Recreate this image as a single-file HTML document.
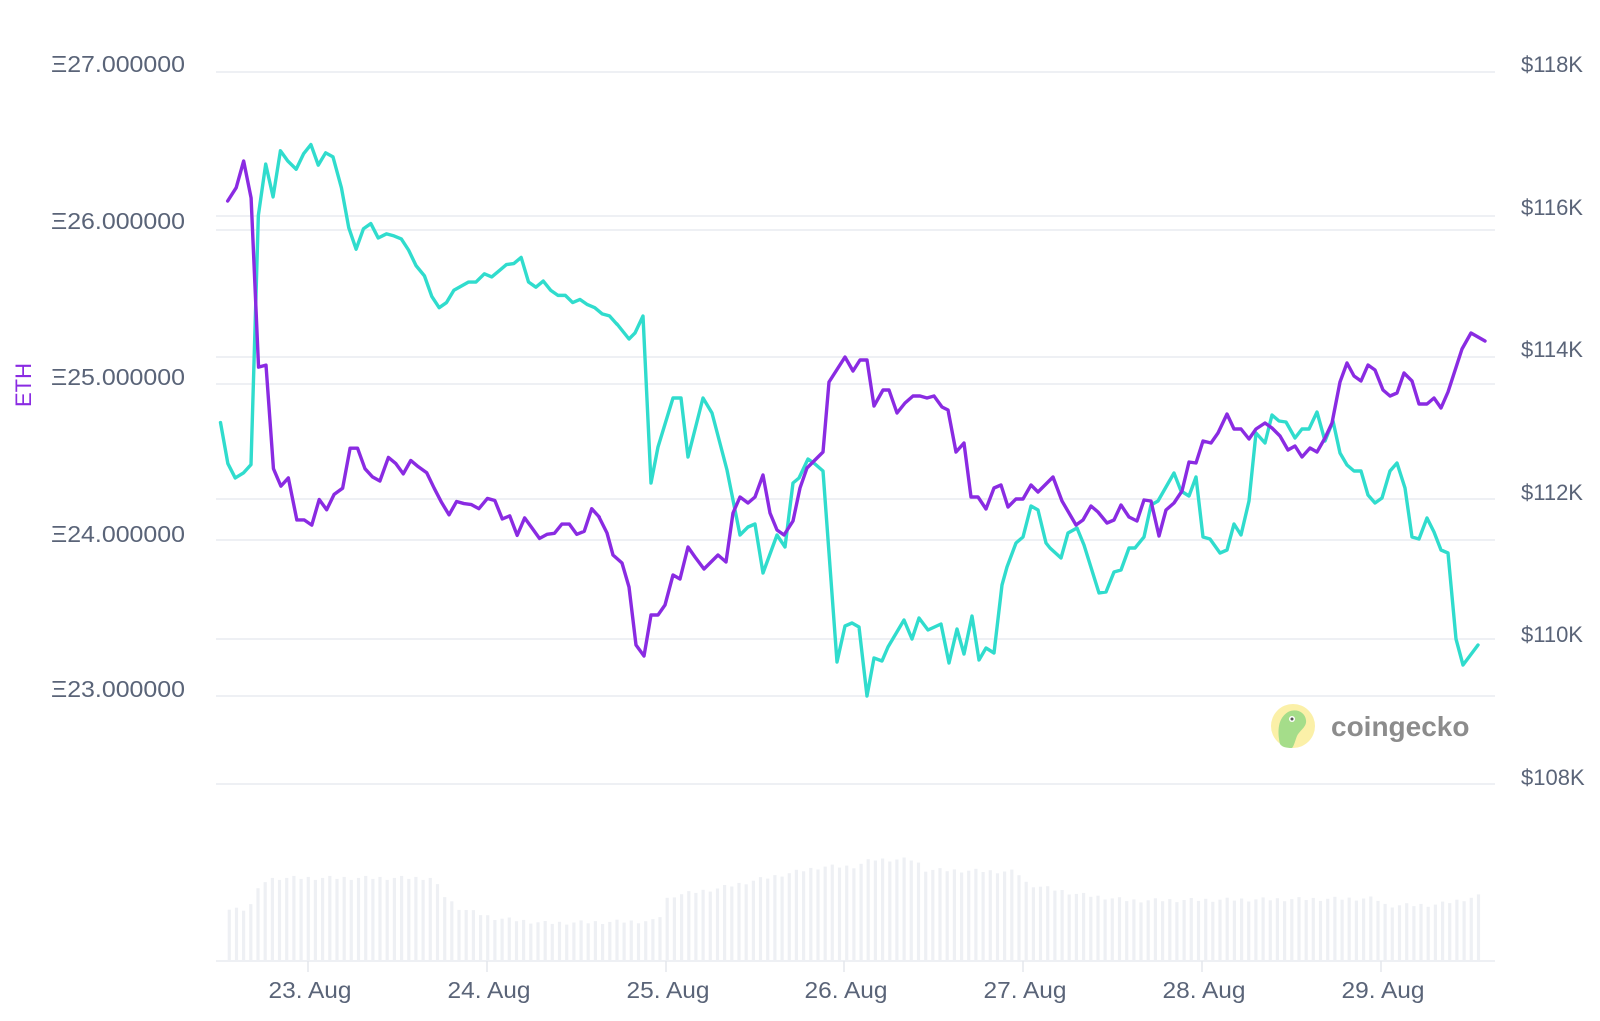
<!DOCTYPE html>
<html><head><meta charset="utf-8"><style>
html,body{margin:0;padding:0;background:#fff;}
svg{display:block;}
text{font-family:"Liberation Sans",sans-serif;}
</style></head><body>
<svg id="s" width="1600" height="1021" viewBox="0 0 1600 1021" xmlns="http://www.w3.org/2000/svg">
<rect width="1600" height="1021" fill="#fff"/>
<g stroke="#eef0f4" stroke-width="2">
<line x1="216" x2="1495" y1="72" y2="72"/>
<line x1="216" x2="1495" y1="216" y2="216"/>
<line x1="216" x2="1495" y1="230" y2="230"/>
<line x1="216" x2="1495" y1="357" y2="357"/>
<line x1="216" x2="1495" y1="384" y2="384"/>
<line x1="216" x2="1495" y1="499" y2="499"/>
<line x1="216" x2="1495" y1="540" y2="540"/>
<line x1="216" x2="1495" y1="639" y2="639"/>
<line x1="216" x2="1495" y1="696" y2="696"/>
<line x1="216" x2="1495" y1="784" y2="784"/>
<line x1="216" x2="1495" y1="961" y2="961"/>
</g>
<g id="bars" fill="#eef0f4"></g>
<g stroke="#e4e7ec" stroke-width="1.5">
<line x1="308" x2="308" y1="961" y2="972"/><line x1="487" x2="487" y1="961" y2="972"/>
<line x1="666" x2="666" y1="961" y2="972"/><line x1="844" x2="844" y1="961" y2="972"/>
<line x1="1023" x2="1023" y1="961" y2="972"/><line x1="1202" x2="1202" y1="961" y2="972"/>
<line x1="1381" x2="1381" y1="961" y2="972"/>
</g>
<g fill="#5a6478" font-size="23">
<text x="51" y="72" textLength="134" lengthAdjust="spacingAndGlyphs">Ξ27.000000</text>
<text x="51" y="229" textLength="134" lengthAdjust="spacingAndGlyphs">Ξ26.000000</text>
<text x="51" y="385" textLength="134" lengthAdjust="spacingAndGlyphs">Ξ25.000000</text>
<text x="51" y="542" textLength="134" lengthAdjust="spacingAndGlyphs">Ξ24.000000</text>
<text x="51" y="697" textLength="134" lengthAdjust="spacingAndGlyphs">Ξ23.000000</text>
</g>
<g fill="#5a6478" font-size="22">
<text x="1521" y="72">$118K</text>
<text x="1521" y="215">$116K</text>
<text x="1521" y="357">$114K</text>
<text x="1521" y="500">$112K</text>
<text x="1521" y="642">$110K</text>
<text x="1521" y="785">$108K</text>
</g>
<g fill="#5a6478" font-size="23" text-anchor="middle">
<text x="310" y="998" textLength="83" lengthAdjust="spacingAndGlyphs">23. Aug</text><text x="489" y="998" textLength="83" lengthAdjust="spacingAndGlyphs">24. Aug</text>
<text x="668" y="998" textLength="83" lengthAdjust="spacingAndGlyphs">25. Aug</text><text x="846" y="998" textLength="83" lengthAdjust="spacingAndGlyphs">26. Aug</text>
<text x="1025" y="998" textLength="83" lengthAdjust="spacingAndGlyphs">27. Aug</text><text x="1204" y="998" textLength="83" lengthAdjust="spacingAndGlyphs">28. Aug</text>
<text x="1383" y="998" textLength="83" lengthAdjust="spacingAndGlyphs">29. Aug</text>
</g>
<text transform="translate(31,385) rotate(-90)" text-anchor="middle" fill="#8a2be2" font-size="22">ETH</text>
<!-- coingecko -->
<g transform="translate(-6,-4)">
<circle cx="1299" cy="730" r="22" fill="#fbf0a8"/>
<path d="M1286 748 C1283 735 1284 722 1294 716 C1302 712 1311 716 1312 724 C1313 731 1306 734 1303 740 C1301 745 1300 750 1298 752 C1292 752 1288 751 1286 748Z" fill="#a5dd8a"/>
<circle cx="1298" cy="723" r="3" fill="#fff"/><circle cx="1298" cy="723" r="1.5" fill="#555"/>
<text x="1337" y="740" font-size="28" font-weight="bold" fill="#8c8c8c">coingecko</text>
</g>
<g fill="none" stroke-width="3.4" stroke-linejoin="round" stroke-linecap="round">
<!-- cyan A -->
<polyline stroke="#30dccd" vector-effect="non-scaling-stroke" transform="scale(1.0256) translate(215,0) scale(1.025,1) translate(-215,0)" points="215,412 222,452 229,466 237,461 244,453 251,210 258,160 265,192 272,147 279,157 287,165 294,150 301,141 308,161 315,149 322,153 330,183 337,222 344,243 351,223 358,218 365,232 373,228 380,230 387,233 394,244 401,259 409,269 416,289 423,300 430,295 437,283 444,279 451,275 458,275 466,267 473,270 480,264 487,258 494,257 501,251 508,275 515,280 522,274 529,283 536,288 543,288 550,295 557,292 564,297 571,300 578,306 585,308 592,316"/>
<polyline stroke="#30dccd" points="617,324 629,339 635,333 643,316 651,483 658,447 673,398 681,398 688,457 703,398 712,413 727,470 740,535 748,527 755,524 763,573 777,535 785,547 793,483 799,478 808,459 815,464 823,471 837,662 845,626 852,623 859,627 867,696 874,658 882,661 888,647 904,620 912,639 919,618 928,630 941,624 949,663 957,629 964,654 972,616 979,660 986,648 994,653 1002,585 1007,567 1016,543 1023,537 1031,506 1038,510 1046,543 1050,548 1061,558 1068,533 1077,528 1084,545 1099,593 1106,592 1114,572 1121,570 1129,548 1135,548 1144,537 1151,505 1158,501 1174,473 1181,491 1189,496 1196,477 1203,537 1210,539 1220,553 1227,550 1234,524 1241,535 1249,501 1256,433 1265,443 1272,415 1279,421 1286,422 1295,438 1302,429 1309,429 1317,412 1325,441 1333,421 1340,453 1347,465 1354,471 1361,471 1368,495 1375,503 1382,498 1390,471 1397,463 1405,488 1412,537 1419,539 1427,518 1434,532 1441,550 1448,553 1456,639 1463,665 1478,645"/>
<!-- purple -->
<polyline stroke="#8a2be2" vector-effect="non-scaling-stroke" transform="scale(1.0256) translate(222,0) scale(1.0378,1) translate(-222,0)" points="222,196 230,183 237,157 244,193 251,358 258,356 265,457 272,474 279,466 287,507 294,507 301,512 308,487 315,497 322,482 330,476 337,437 344,437 351,457 358,465 365,469 373,446 380,452 387,462 394,449 401,455 409,461 416,476 423,490 430,502 437,489 444,491 451,492 458,496 466,486 473,488 480,506 487,503 494,522 501,505 508,515 515,525 522,521 529,520 536,511 543,511 550,521 557,518 564,496 571,504"/>
<polyline stroke="#8a2be2" points="599,517 607,533 613,555 622,563 629,587 636,645 644,656 651,615 658,615 665,605 673,575 680,579 688,547 695,557 704,569 718,555 726,562 733,513 740,497 748,503 755,497 763,475 770,513 777,530 784,535 793,521 800,488 807,468 823,452 829,382 845,357 853,371 860,360 867,360 874,406 883,390 889,390 897,413 905,403 913,396 920,396 927,398 934,396 942,407 948,410 956,452 964,443 971,497 978,497 986,509 994,488 1001,485 1008,507 1016,499 1023,499 1031,485 1038,492 1053,477 1062,501 1076,525 1083,520 1091,506 1098,512 1107,523 1114,520 1121,505 1129,517 1137,521 1144,500 1151,501 1159,536 1166,510 1174,503 1182,491 1189,462 1196,463 1203,441 1211,443 1218,433 1227,414 1234,429 1241,429 1249,439 1256,429 1265,423 1272,428 1280,436 1288,450 1295,446 1302,457 1310,448 1317,452 1325,438 1332,423 1340,382 1347,363 1354,376 1361,381 1368,365 1375,370 1383,390 1390,396 1397,393 1404,373 1412,381 1419,404 1427,404 1434,398 1441,408 1448,392 1462,349 1471,333 1485,341"/>
</g>
</svg>
<script>
(function(){
var k=[[222,886],[240,886],[244,880],[251,866],[258,858],[270,856],[420,856],[430,872],[445,885],[480,895],[530,900],[640,898],[650,874],[700,866],[750,855],[800,845],[830,845],[850,838],[890,838],[900,848],[990,850],[1000,862],[1050,872],[1100,878],[1340,876],[1350,883],[1400,882],[1430,876],[1445,873]];
function top(x){for(var i=0;i<k.length-1;i++){if(x<=k[i+1][0]){var t=(x-k[i][0])/(k[i+1][0]-k[i][0]);return k[i][1]+t*(k[i+1][1]-k[i][1]);}}return k[k.length-1][1];}
var g=document.getElementById('bars'),s='';
for(var x=222;x<=1446;x+=7){var y=top(x)*1.0256+((x*7919)%5)-2;var rx=x*1.0256;s+='<rect x="'+rx.toFixed(1)+'" y="'+y.toFixed(1)+'" width="3.2" height="'+(961-y).toFixed(1)+'"/>';}
g.innerHTML=s;
})();
</script>
</body></html>
